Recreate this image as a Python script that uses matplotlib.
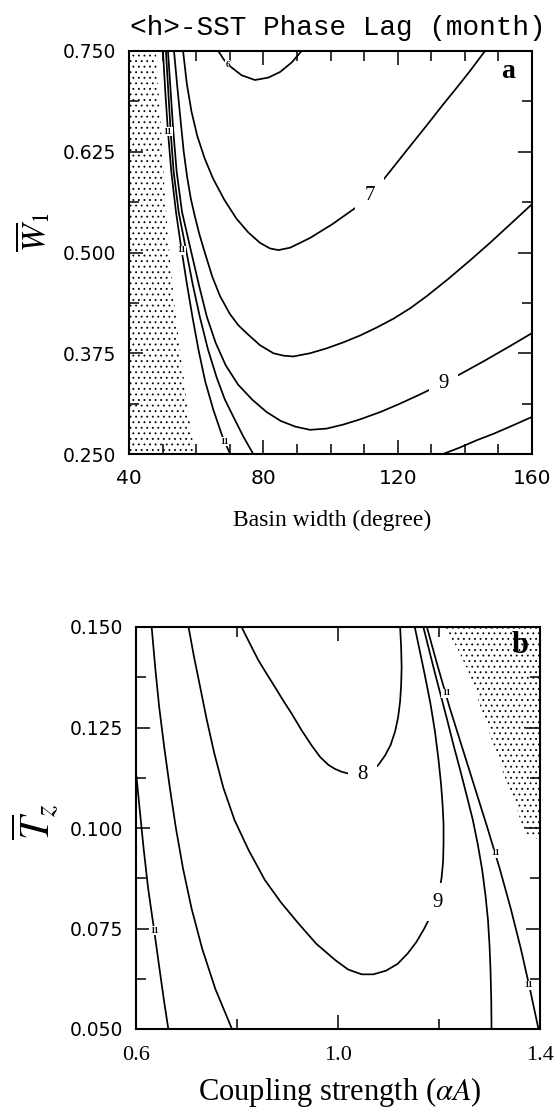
import matplotlib
matplotlib.use("Agg")
import matplotlib.pyplot as plt
from matplotlib.patches import Polygon
from matplotlib.ticker import FixedLocator, MultipleLocator

plt.rcParams['mathtext.fontset'] = 'stix'
plt.rcParams['hatch.linewidth'] = 0.6

# ---------------- Panel a : basin width vs W1 ----------------
a_x_ticks = [40, 80, 120, 160]
a_y_ticks = [0.250, 0.375, 0.500, 0.625, 0.750]
a_y_ticklabels = ["0.250", "0.375", "0.500", "0.625", "0.750"]

a_c6_x = [66.6, 68.3, 70.1, 73.5, 77.5, 81.5, 85.0, 88.5, 91.4]
a_c6_y = [0.750, 0.739, 0.731, 0.720, 0.714, 0.717, 0.724, 0.736, 0.750]

a_c7_x = [56.1, 57.2, 58.6, 60.3, 62.5, 65.0, 68.3, 72.0, 75.5, 79.0, 82.0, 84.5, 88.0,
          93.9, 100.5, 107.3, 111.5, 115.3, 119.5, 123.7, 128.7, 133.6, 137.5, 141.5, 146.0]
a_c7_y = [0.750, 0.710, 0.675, 0.645, 0.617, 0.592, 0.566, 0.542, 0.525, 0.512, 0.505, 0.503, 0.506,
          0.518, 0.535, 0.555, 0.570, 0.588, 0.610, 0.632, 0.658, 0.684, 0.704, 0.725, 0.750]

a_c8_x = [53.4, 54.4, 55.5, 56.3, 57.3, 58.4, 59.6, 61.0, 62.5, 64.8, 67.1, 70.0, 72.5, 75.0, 79.0,
          83.0, 86.0, 88.9, 93.9, 98.8, 103.8, 108.8, 113.8, 118.8, 123.8, 128.7, 135.0, 141.5,
          147.5, 153.5, 160.0]
a_c8_y = [0.750, 0.705, 0.658, 0.625, 0.594, 0.567, 0.545, 0.522, 0.501, 0.470, 0.446, 0.424, 0.410,
          0.400, 0.385, 0.375, 0.372, 0.371, 0.375, 0.381, 0.3885, 0.397, 0.407, 0.418, 0.431, 0.446,
          0.467, 0.490, 0.512, 0.535, 0.560]

a_c9_x = [51.6, 52.4, 53.2, 54.2, 55.8, 58.4, 60.8, 63.2, 65.8, 68.8, 72.5, 76.8, 81.0, 85.2, 89.5,
          93.9, 98.8, 103.8, 108.8, 114.8, 120.7, 126.7, 132.6, 138.6, 146.0, 153.5, 160.0]
a_c9_y = [0.750, 0.700, 0.650, 0.600, 0.550, 0.503, 0.460, 0.420, 0.388, 0.360, 0.336, 0.317, 0.302,
          0.291, 0.284, 0.280, 0.2815, 0.2865, 0.293, 0.302, 0.3125, 0.324, 0.336, 0.349, 0.366,
          0.384, 0.400]

a_c10_x = [51.0, 51.7, 52.4, 53.3, 54.8, 57.0, 59.0, 61.1, 63.5, 66.1, 68.5, 71.1, 74.0, 77.0]
a_c10_y = [0.750, 0.700, 0.650, 0.600, 0.550, 0.503, 0.460, 0.420, 0.380, 0.345, 0.318, 0.296, 0.272,
           0.250]
a_c10r_x = [133.5, 138.5, 143.5, 148.5, 153.5, 160.0]
a_c10r_y = [0.250, 0.258, 0.267, 0.275, 0.284, 0.296]

a_c11_x = [50.1, 50.8, 51.6, 52.6, 54.0, 55.4, 57.2, 58.9, 60.7, 62.7, 65.1, 67.8, 70.1]
a_c11_y = [0.750, 0.700, 0.650, 0.600, 0.550, 0.510, 0.462, 0.420, 0.379, 0.340, 0.305, 0.272, 0.250]

a_stip_x = [40.0, 48.0, 48.8, 49.6, 50.4, 51.8, 53.4, 55.2, 57.7, 59.7, 40.0]
a_stip_y = [0.750, 0.750, 0.700, 0.650, 0.590, 0.510, 0.440, 0.380, 0.300, 0.250, 0.250]

a_big_labels = ["7", "9"]
a_big_lx = [111.6, 133.6]
a_big_ly = [0.571, 0.337]
a_small_labels = ["11", "11", "11", "6"]
a_small_lx = [51.6, 55.6, 68.4, 69.4]
a_small_ly = [0.650, 0.503, 0.265, 0.733]

# ---------------- Panel b : coupling strength vs Tz ----------------
b_x_ticks = [0.6, 1.0, 1.4]
b_x_ticklabels = ["0.6", "1.0", "1.4"]
b_y_ticks = [0.050, 0.075, 0.100, 0.125, 0.150]
b_y_ticklabels = ["0.050", "0.075", "0.100", "0.125", "0.150"]

b_c8_x = [0.809, 0.825, 0.842, 0.858, 0.875, 0.891, 0.908, 0.928, 0.948, 0.965, 0.981, 0.994,
          1.007, 1.028, 1.050, 1.065, 1.080, 1.093, 1.104, 1.113, 1.119, 1.123, 1.125, 1.126,
          1.125, 1.123]
b_c8_y = [0.1500, 0.1460, 0.1418, 0.1385, 0.1351, 0.1318, 0.1285, 0.1243, 0.1205, 0.1176, 0.1157,
          0.1147, 0.1140, 0.1133, 0.1131, 0.1140, 0.1157, 0.1180, 0.1206, 0.1240, 0.1275, 0.1315,
          0.1355, 0.1400, 0.1450, 0.1500]

b_c9_x = [0.704, 0.715, 0.727, 0.740, 0.755, 0.773, 0.795, 0.823, 0.855, 0.887, 0.920, 0.957, 0.994,
          1.020, 1.047, 1.070, 1.095, 1.118, 1.138, 1.155, 1.170, 1.183, 1.193, 1.200, 1.205, 1.208,
          1.209, 1.209, 1.207, 1.204, 1.199, 1.192, 1.183, 1.172, 1.162, 1.152]
b_c9_y = [0.1500, 0.1425, 0.1351, 0.1270, 0.1186, 0.1100, 0.1020, 0.0945, 0.0871, 0.0815, 0.0765,
          0.0712, 0.0672, 0.0648, 0.0636, 0.0636, 0.0645, 0.0662, 0.0688, 0.0716, 0.0748, 0.0780,
          0.0810, 0.0840, 0.0875, 0.0915, 0.0960, 0.1010, 0.1060, 0.1110, 0.1170, 0.1240, 0.1310,
          0.1380, 0.1440, 0.1500]

b_c10l_x = [0.631, 0.638, 0.646, 0.656, 0.667, 0.679, 0.693, 0.710, 0.731, 0.757, 0.790]
b_c10l_y = [0.150, 0.140, 0.130, 0.120, 0.110, 0.100, 0.090, 0.080, 0.070, 0.060, 0.050]
b_c10r_x = [1.169, 1.180, 1.191, 1.2035, 1.216, 1.229, 1.242, 1.255, 1.267, 1.277, 1.2855, 1.292,
            1.297, 1.300, 1.302, 1.3035, 1.304]
b_c10r_y = [0.1500, 0.1445, 0.1390, 0.1330, 0.1270, 0.1205, 0.1144, 0.1080, 0.1020, 0.0958, 0.0896,
            0.0833, 0.0771, 0.0709, 0.0647, 0.0570, 0.0500]

b_c11l_x = [0.601, 0.607, 0.615, 0.624, 0.636, 0.6465, 0.6555, 0.664]
b_c11l_y = [0.1128, 0.105, 0.095, 0.085, 0.0745, 0.065, 0.057, 0.050]
b_c11r_x = [1.176, 1.198, 1.221, 1.246, 1.271, 1.296, 1.320, 1.342, 1.362, 1.380, 1.397]
b_c11r_y = [0.150, 0.140, 0.130, 0.120, 0.110, 0.100, 0.090, 0.080, 0.070, 0.060, 0.050]

b_stip_x = [1.210, 1.400, 1.400, 1.370, 1.350, 1.325, 1.291, 1.257, 1.235]
b_stip_y = [0.150, 0.150, 0.097, 0.0988, 0.1062, 0.1144, 0.1269, 0.1393, 0.1450]

b_big_labels = ["8", "9"]
b_big_lx = [1.048, 1.197]
b_big_ly = [0.1132, 0.0815]
b_small_labels = ["11", "11", "11", "11"]
b_small_lx = [1.214, 1.311, 1.377, 0.636]
b_small_ly = [0.1335, 0.0937, 0.0609, 0.0745]

# ---------------- Figure ----------------
W, H = 557, 1116
fig = plt.figure(figsize=(W / 100, H / 100), dpi=100)
ax_a = fig.add_axes([129 / W, 1 - 454 / H, 403 / W, 403 / H])
ax_b = fig.add_axes([136 / W, 1 - 1029 / H, 404 / W, 402 / H])

LW = 1.25
big_font = dict(family="Liberation Serif", fontsize=15)
small_font = dict(family="Liberation Serif", fontsize=6.5, fontweight="bold")
gap_box = dict(boxstyle="square,pad=0.45", fc="white", ec="none")
small_box = dict(boxstyle="square,pad=0.05", fc="white", ec="none")


def style_axes(ax):
    for s in ax.spines.values():
        s.set_linewidth(1.5)
    ax.tick_params(which="both", direction="in", top=True, right=True, width=1.1)
    ax.tick_params(which="major", length=10)
    ax.tick_params(which="minor", length=7)


# Panel a
ax_a.add_patch(Polygon(list(zip(a_stip_x, a_stip_y)), closed=True, fill=False,
                       hatch="...", edgecolor="black", linewidth=0))
for xs, ys in [(a_c6_x, a_c6_y), (a_c7_x, a_c7_y), (a_c8_x, a_c8_y), (a_c9_x, a_c9_y),
               (a_c10_x, a_c10_y), (a_c10r_x, a_c10r_y), (a_c11_x, a_c11_y)]:
    ax_a.plot(xs, ys, color="black", lw=LW, solid_joinstyle="round")
for t, x, y in zip(a_big_labels, a_big_lx, a_big_ly):
    ax_a.text(x, y, t, ha="center", va="center", bbox=gap_box, **big_font)
for t, x, y in zip(a_small_labels, a_small_lx, a_small_ly):
    ax_a.text(x, y, t, ha="center", va="center", bbox=small_box, **small_font)
ax_a.set_xlim(40, 160)
ax_a.set_ylim(0.25, 0.75)
ax_a.xaxis.set_major_locator(FixedLocator(a_x_ticks))
ax_a.xaxis.set_minor_locator(MultipleLocator(10))
ax_a.yaxis.set_major_locator(FixedLocator(a_y_ticks))
ax_a.yaxis.set_minor_locator(MultipleLocator(0.0625))
ax_a.set_xticklabels([str(v) for v in a_x_ticks], family="DejaVu Sans", fontsize=14.5)
ax_a.set_yticklabels(a_y_ticklabels, family="DejaVu Sans", fontsize=13.5)
style_axes(ax_a)
ax_a.tick_params(axis="x", which="major", pad=10.5)
ax_a.tick_params(axis="y", which="major", pad=9)
ax_a.text(0.94, 0.948, "a", transform=ax_a.transAxes, ha="center", va="center",
          family="Liberation Serif", fontweight="bold", fontsize=20)

# Panel b
ax_b.add_patch(Polygon(list(zip(b_stip_x, b_stip_y)), closed=True, fill=False,
                       hatch="...", edgecolor="black", linewidth=0))
for xs, ys in [(b_c8_x, b_c8_y), (b_c9_x, b_c9_y), (b_c10l_x, b_c10l_y), (b_c10r_x, b_c10r_y),
               (b_c11l_x, b_c11l_y), (b_c11r_x, b_c11r_y)]:
    ax_b.plot(xs, ys, color="black", lw=LW, solid_joinstyle="round")
for t, x, y in zip(b_big_labels, b_big_lx, b_big_ly):
    ax_b.text(x, y, t, ha="center", va="center", bbox=gap_box, **big_font)
for t, x, y in zip(b_small_labels, b_small_lx, b_small_ly):
    ax_b.text(x, y, t, ha="center", va="center", bbox=small_box, **small_font)
ax_b.set_xlim(0.6, 1.4)
ax_b.set_ylim(0.05, 0.15)
ax_b.xaxis.set_major_locator(FixedLocator(b_x_ticks))
ax_b.xaxis.set_minor_locator(MultipleLocator(0.2))
ax_b.yaxis.set_major_locator(FixedLocator(b_y_ticks))
ax_b.yaxis.set_minor_locator(MultipleLocator(0.0125))
ax_b.set_xticklabels(b_x_ticklabels, family="Liberation Serif", fontsize=16)
ax_b.set_yticklabels(b_y_ticklabels, family="DejaVu Sans", fontsize=13.5)
style_axes(ax_b)
ax_b.tick_params(axis="x", which="major", pad=12)
ax_b.tick_params(axis="y", which="major", pad=9)
ax_b.text(0.95, 0.955, "b", transform=ax_b.transAxes, ha="center", va="center",
          family="Liberation Serif", fontweight="bold", fontsize=22)

# Titles and axis labels
fig.text(338 / W, 1 - 28 / H, "<h>-SST Phase Lag (month)", ha="center", va="center",
         family="Liberation Mono", fontsize=20)
fig.text(332 / W, 1 - 520 / H, "Basin width (degree)", ha="center", va="center",
         family="Liberation Serif", fontsize=17)
fig.text(340 / W, 1 - 1092 / H, r"Coupling strength ($\alpha A$)", ha="center", va="center",
         family="Liberation Serif", fontsize=22)
fig.text(33 / W, 1 - 232 / H, r"$\overline{W}_{1}$", ha="center", va="center",
         rotation=90, fontsize=24)
fig.text(35 / W, 1 - 822 / H, r"$\overline{T}_{z}$", ha="center", va="center",
         rotation=90, fontsize=30)

fig.savefig("out.png", dpi=100)
